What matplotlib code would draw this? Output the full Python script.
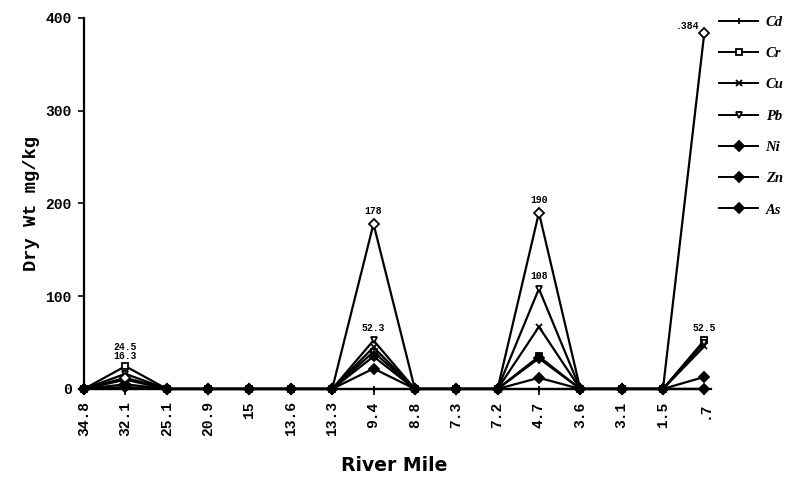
import matplotlib.pyplot as plt
from matplotlib.lines import Line2D

# River mile stations (x categories) and metal concentrations, dry wt mg/kg
miles = ['34.8', '32.1', '25.1', '20.9', '15', '13.6', '13.3', '9.4',
         '8.8', '7.3', '7.2', '4.7', '3.6', '3.1', '1.5', '.7']
cd = [0, 0, 0, 0, 0, 0, 0, 0, 0, 0, 0, 0, 0, 0, 0, 0]
cr = [0, 24.5, 0, 0, 0, 0, 0, 40, 0, 0, 0, 35, 0, 0, 0, 52.5]
cu = [0, 10, 0, 0, 0, 0, 0, 45, 0, 0, 0, 67, 0, 0, 0, 46]
pb = [0, 16.3, 0, 0, 0, 0, 0, 52.3, 0, 0, 0, 108, 0, 0, 0, 50]
ni = [0, 5, 0, 0, 0, 0, 0, 22, 0, 0, 0, 33, 0, 0, 0, 13]
zn = [0, 12, 0, 0, 0, 0, 0, 178, 0, 0, 0, 190, 0, 0, 0, 384]
as_ = [0, 2, 0, 0, 0, 0, 0, 35, 0, 0, 0, 12, 0, 0, 0, 0]

# value labels: (station index, value, text, offset above point)
notes = [(1, 24.5, '24.5', 12), (1, 16.3, '16.3', 11), (7, 178, '178', 7),
         (7, 52.3, '52.3', 7), (11, 190, '190', 7), (11, 108, '108', 7),
         (15, 52.5, '52.5', 7)]

mono = ['Liberation Mono', 'DejaVu Sans Mono']

fig = plt.figure(figsize=(7.93, 4.98), dpi=100)
ax = fig.add_axes([0.106, 0.219, 0.79, 0.745])
x = range(len(miles))

series = [('Cd', cd, '+', 'k'), ('Cr', cr, 's', 'white'), ('Cu', cu, 'x', 'k'),
          ('Pb', pb, 'v', 'white'), ('Ni', ni, 'D', 'k'), ('Zn', zn, 'D', 'white'),
          ('As', as_, 'D', 'k')]
for name, vals, mk, fc in series:
    ax.plot(x, vals, color='black', lw=1.6, marker=mk, ms=5, mfc=fc,
            mec='black', mew=1.3, clip_on=False, zorder=3)

for i, v, t, off in notes:
    ax.annotate(t, (i, v), xytext=(0, off), textcoords='offset points', ha='center',
                fontsize=7, fontweight='bold', family=mono)
ax.annotate('.384', (15, 384), xytext=(-4, 1), textcoords='offset points', ha='right',
            va='bottom', fontsize=7, fontweight='bold', family=mono)

ax.set_xlim(0, 15.15)
ax.set_ylim(0, 400)
ax.set_xticks(list(x))
ax.set_xticklabels(miles, rotation=90, fontsize=10.5, fontweight='bold', family=mono)
ax.set_yticks([0, 100, 200, 300, 400])
ax.set_yticklabels(['0', '100', '200', '300', '400'], fontsize=10.5,
                   fontweight='bold', family=mono)
ax.tick_params(length=4, width=1.2, pad=5)
for s in ['top', 'right']:
    ax.spines[s].set_visible(False)
ax.spines['left'].set_linewidth(1.6)
ax.spines['bottom'].set_linewidth(1.6)

ax.set_ylabel('Dry Wt mg/kg', fontsize=13.5, fontweight='bold', family=mono, labelpad=4)
fig.text(0.497, 0.055, 'River Mile', ha='center', fontsize=13.5, fontweight='bold',
         family=['Liberation Sans Narrow', 'DejaVu Sans'])

# legend as drawn in the original (all diamond entries filled)
handles = [Line2D([], [], color='black', lw=1.4, marker=mk, ms=5,
                  mfc=('white' if name in ('Cr', 'Pb') else 'k'), mec='black', mew=1.3)
           for name, vals, mk, fc in series]
fig.legend(handles, [s[0] for s in series], loc='upper left',
           bbox_to_anchor=(0.89, 0.995), frameon=False, handlelength=2.7,
           handletextpad=0.5, labelspacing=1.24,
           prop={'family': ['Liberation Serif', 'DejaVu Serif'], 'weight': 'bold',
                 'style': 'italic', 'size': 10.5})

fig.savefig('out.png', dpi=100)
